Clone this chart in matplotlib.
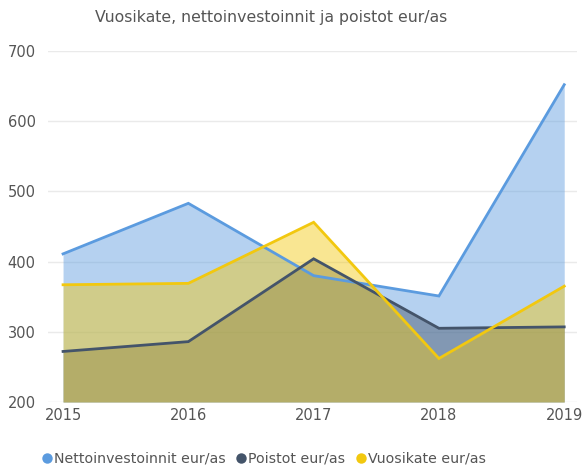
import matplotlib
matplotlib.use("Agg")
import matplotlib.pyplot as plt
from matplotlib.lines import Line2D

years = [2015, 2016, 2017, 2018, 2019]
netto = [411, 483, 380, 351, 652]
poistot = [272, 286, 404, 305, 307]
vuosikate = [367, 369, 456, 262, 365]
series_names = ["Nettoinvestoinnit eur/as", "Poistot eur/as", "Vuosikate eur/as"]
yticks = [200, 300, 400, 500, 600, 700]

colors = ["#5B9BDF", "#44546A", "#F2C80F"]

fig = plt.figure(figsize=(5.82, 4.71), dpi=100)
ax = fig.add_axes([0.0825, 0.1465, 0.9085, 0.7452])

for vals, c in zip([netto, poistot, vuosikate], colors):
    ax.fill_between(years, vals, 200, color=c, alpha=0.45, linewidth=0)
for vals, c in zip([netto, poistot, vuosikate], colors):
    ax.plot(years, vals, color=c, linewidth=2.0, solid_joinstyle="miter")

ax.set_ylim(200, 700)
ax.set_xlim(2014.88, 2019.1)
ax.set_yticks(yticks)
ax.set_xticks(years)
ax.set_xticklabels([str(y) for y in years])
for s in ax.spines.values():
    s.set_visible(False)
ax.grid(axis="y", color="#EAEAEA", linewidth=1)
ax.set_axisbelow(True)
ax.tick_params(axis="both", length=0, labelcolor="#555555", labelsize=10.5)
ax.tick_params(axis="y", pad=9)
ax.tick_params(axis="x", pad=4)

fig.text(0.466, 0.963, "Vuosikate, nettoinvestoinnit ja poistot eur/as", ha="center", va="center",
         fontsize=11.3, color="#555555")

handles = [Line2D([], [], marker="o", linestyle="none", markersize=7.5, markerfacecolor=c,
                  markeredgecolor="none") for c in colors]
fig.legend(handles, series_names, loc="center left", bbox_to_anchor=(0.068, 0.026), ncol=3, frameon=False,
           fontsize=10.2, labelcolor="#555555", handletextpad=0.0, columnspacing=0.6, handlelength=1.0,
           borderaxespad=0, borderpad=0)

fig.savefig("out.png", dpi=100)
